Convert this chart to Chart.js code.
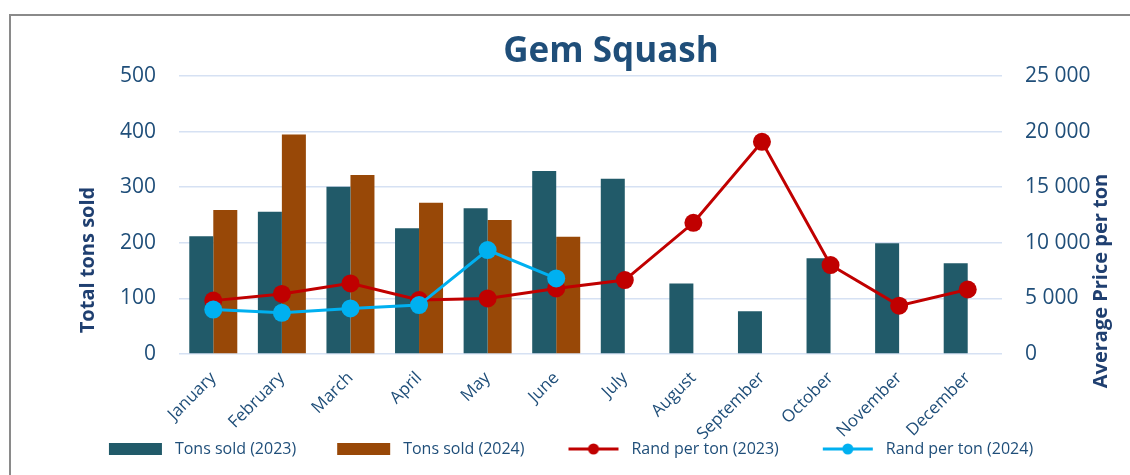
<!DOCTYPE html>
<html>
<head>
<meta charset="utf-8">
<script src="https://cdn.jsdelivr.net/npm/chart.js@4"></script>
<style>
  html, body { margin: 0; padding: 0; background: #fff; }
  #wrap { width: 1130px; height: 475px; }
</style>
</head>
<body>
<div id="wrap"><canvas id="squashChart" width="1130" height="475"></canvas></div>
<script>
let months = ["January", "February", "March", "April", "May", "June",
    "July", "August", "September", "October", "November", "December"];

let tons2023 = [212, 256, 301, 226, 262, 329, 315, 127, 77, 172, 199, 163];
let tons2024 = [259, 395, 322, 272, 241, 211, null, null, null, null, null, null];

let rand2023 = [4800, 5400, 6350, 4850, 5000, 5900, 6650, 11800, 19080, 8000, 4350, 5800];
let rand2024 = [4000, 3700, 4100, 4400, 9350, 6800, null, null, null, null, null, null];

let leftTicks = [0, 100, 200, 300, 400, 500];
let rightTicks = [0, 5000, 10000, 15000, 20000, 25000];

const FONT = "'Open Sans', sans-serif";
const TEXT = "#1F4E79";
const TITLE_TEXT = "#1F3F70";

// legend icons: bar boxes and line-with-dot (39px blank lead for spacing)
function legendIcon(kind, color){
    let c = document.createElement("canvas");
    c.width = 97;
    c.height = 12;
    let g = c.getContext("2d");
    if(kind === "box"){
        g.fillStyle = color;
        g.fillRect(39, 0, 53, 12);
    } else {
        g.strokeStyle = color;
        g.lineWidth = 3;
        g.beginPath();
        g.moveTo(42, 6);
        g.lineTo(92, 6);
        g.stroke();
        g.fillStyle = color;
        g.beginPath();
        g.arc(67, 6, 5.5, 0, Math.PI * 2);
        g.fill();
    }
    return c;
}

let icons = [
    legendIcon("box", "#215A69"),
    legendIcon("box", "#984807"),
    legendIcon("line", "#C00000"),
    legendIcon("line", "#00B0F0")
];

function spaced(v){
    return String(v).replace(/\B(?=(\d{3})+(?!\d))/g, " ");
}

const decor = {
    id: "decor",
    beforeDraw(chart){
        let ctx = chart.ctx;
        ctx.save();
        ctx.strokeStyle = "#8a8a8a";
        ctx.lineWidth = 2;
        ctx.beginPath();
        ctx.moveTo(10, 475);
        ctx.lineTo(10, 15);
        ctx.lineTo(1130, 15);
        ctx.stroke();
        ctx.restore();
    },
    afterDraw(chart){
        let ctx = chart.ctx;

        // chart title
        ctx.save();
        ctx.font = "bold 35px " + FONT;
        ctx.fillStyle = TEXT;
        ctx.textAlign = "center";
        ctx.textBaseline = "alphabetic";
        ctx.fillText("Gem Squash", 611, 62);
        ctx.restore();

        // axis titles
        ctx.save();
        ctx.font = "bold 20px " + FONT;
        ctx.fillStyle = TITLE_TEXT;
        ctx.textAlign = "center";
        ctx.textBaseline = "middle";
        ctx.translate(88, 260);
        ctx.rotate(-Math.PI / 2);
        ctx.fillText("Total tons sold", 0, 0);
        ctx.restore();

        ctx.save();
        ctx.font = "bold 20px " + FONT;
        ctx.fillStyle = TITLE_TEXT;
        ctx.textAlign = "center";
        ctx.textBaseline = "middle";
        ctx.translate(1101, 281);
        ctx.rotate(-Math.PI / 2);
        ctx.fillText("Average Price per ton", 0, 0);
        ctx.restore();
    }
};

let ctx = document.getElementById("squashChart");

let chart = new Chart(ctx, {
    type: "bar",
    data: {
        labels: months,
        datasets: [
            {
                label: "Tons sold (2023)",
                data: tons2023,
                backgroundColor: "#215A69",
                yAxisID: "y",
                order: 2,
                categoryPercentage: 0.7,
                barPercentage: 1
            },
            {
                label: "Tons sold (2024)",
                data: tons2024,
                backgroundColor: "#984807",
                yAxisID: "y",
                order: 3,
                categoryPercentage: 0.7,
                barPercentage: 1
            },
            {
                type: "line",
                label: "Rand per ton (2023)",
                data: rand2023,
                borderColor: "#C00000",
                backgroundColor: "#C00000",
                borderWidth: 3,
                pointRadius: 9,
                pointHoverRadius: 9,
                pointBorderWidth: 0,
                yAxisID: "y1",
                order: 1
            },
            {
                type: "line",
                label: "Rand per ton (2024)",
                data: rand2024,
                borderColor: "#00B0F0",
                backgroundColor: "#00B0F0",
                borderWidth: 3,
                pointRadius: 9,
                pointHoverRadius: 9,
                pointBorderWidth: 0,
                yAxisID: "y1",
                order: 0
            }
        ]
    },
    options: {
        responsive: false,
        animation: false,
        layout: {
            padding: { top: 76, bottom: 8, left: 0, right: 27 }
        },
        plugins: {
            title: { display: false },
            legend: {
                position: "bottom",
                labels: {
                    usePointStyle: true,
                    pointStyleWidth: 97,
                    padding: 2,
                    color: TEXT,
                    font: { family: FONT, size: 16 },
                    generateLabels(chart){
                        let items = Chart.defaults.plugins.legend.labels.generateLabels(chart);
                        items.sort((a, b) => a.datasetIndex - b.datasetIndex);
                        items.forEach(item => {
                            item.pointStyle = icons[item.datasetIndex];
                        });
                        return items;
                    }
                }
            },
            tooltip: { enabled: false }
        },
        scales: {
            x: {
                grid: { display: false },
                border: { display: false },
                ticks: {
                    color: TEXT,
                    font: { family: FONT, size: 17 },
                    minRotation: 45,
                    maxRotation: 45,
                    padding: 6
                },
                afterFit(scale){
                    scale.height = 85;
                }
            },
            y: {
                position: "left",
                min: 0,
                max: 500,
                afterBuildTicks(scale){
                    scale.ticks = leftTicks.map(v => ({ value: v }));
                },
                grid: { color: "#D6E1F3", lineWidth: 1.5, drawTicks: false },
                border: { display: false },
                ticks: {
                    color: TEXT,
                    font: { family: FONT, size: 21 },
                    padding: 23
                },
                afterFit(scale){
                    scale.width = 179;
                }
            },
            y1: {
                position: "right",
                min: 0,
                max: 25000,
                afterBuildTicks(scale){
                    scale.ticks = rightTicks.map(v => ({ value: v }));
                },
                grid: { display: false, drawTicks: false },
                border: { display: false },
                ticks: {
                    color: TEXT,
                    font: { family: FONT, size: 21 },
                    padding: 23,
                    callback: v => spaced(v)
                },
                afterFit(scale){
                    scale.width = 101;
                }
            }
        }
    },
    plugins: [decor]
});
</script>
</body>
</html>
